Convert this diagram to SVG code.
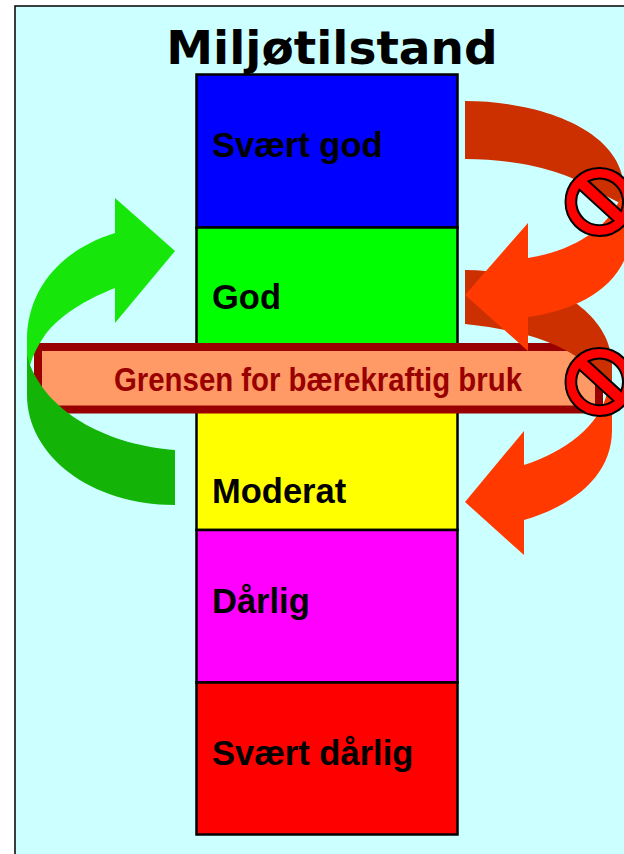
<svg xmlns="http://www.w3.org/2000/svg" width="624" height="854" viewBox="0 0 624 854">
<style>
.lvl{stroke:#000;stroke-width:2.500}
.lbl{font:bold 34.500px "Liberation Sans",Arial,sans-serif;fill:#000}
.ban{fill:#ff0000;stroke:#000;stroke-width:2;fill-rule:evenodd}
.hot{fill:#ff3900}
.tail{fill:#cc3000}
</style>
<defs>
<path id="no" class="ban" d="M-34,0a34,34 0 1,0 68,0a34,34 0 1,0 -68,0ZM14,18.800A23.500,23.500 0 0 1 -20,-12.200ZM-10.900,-20.800A23.500,23.500 0 0 1 21.700,9Z"/>
</defs>
<rect width="624" height="854" fill="#fff"/>
<rect id="panel" x="15" y="6" width="640" height="880" fill="#ccffff" stroke="#000" stroke-width="1.500"/>
<g id="title"><text x="332" y="64" text-anchor="middle" font-family="DejaVu Sans, sans-serif" font-weight="bold" font-size="47">Miljøtilstand</text></g>
<g id="level-svaert-god"><rect class="lvl" x="196.500" y="74.500" width="261" height="153" fill="#0000ff"/><text class="lbl" x="212" y="157">Svært god</text></g>
<g id="level-god"><rect class="lvl" x="196.500" y="227.500" width="261" height="130" fill="#00ff00"/><text class="lbl" x="212" y="309">God</text></g>
<g id="level-moderat"><rect class="lvl" x="196.500" y="400" width="261" height="130" fill="#ffff00"/><text class="lbl" x="212" y="503">Moderat</text></g>
<g id="level-darlig"><rect class="lvl" x="196.500" y="530" width="261" height="152.500" fill="#ff00ff"/><text class="lbl" x="212" y="613">Dårlig</text></g>
<g id="level-svaert-darlig"><rect class="lvl" x="196.500" y="682.500" width="261" height="152" fill="#ff0000"/><text class="lbl" x="212" y="765">Svært dårlig</text></g>
<g id="connectors">
<path id="red2-head" class="hot" d="M465,502L524,431V465C565,452 600,425 607,393L612,385V430C612,475 575,505 524,520V555Z"/>
<g id="bar"><rect x="38" y="347" width="561" height="62.500" fill="#ff9966" stroke="#990000" stroke-width="8"/><text x="318" y="391" text-anchor="middle" font-family="Liberation Sans, Arial, sans-serif" font-weight="bold" font-size="33" fill="#990000" textLength="408" lengthAdjust="spacingAndGlyphs">Grensen for bærekraftig bruk</text></g>
<path id="green-up" fill="#17e60a" d="M175,251L115,198V233C60,250 27,290 27,340V372L30,365C33,355 38,345 45,335C60,315 85,300 115,288V323Z"/>
<path id="green-down" fill="#14b308" d="M30,365C50,415 110,445 175,450V505C90,505 27,455 27,395V355Z"/>
<path id="red2-tail" class="tail" d="M465,270C540,270 612,310 612,365V392L606,392C598,370 570,335 465,324Z"/>
<path id="red1-tail" class="tail" d="M465,101C540,101 624,130 624,190V205L600,193C570,172 520,159 465,159Z"/>
<path id="red1-head" class="hot" d="M465,295L528,223V258C565,252 605,235 622,195L630,180V240C624,285 580,310 528,317V351Z"/>
<use href="#no" x="599.500" y="202"/>
<use href="#no" x="599.500" y="382"/>
</g>
</svg>
